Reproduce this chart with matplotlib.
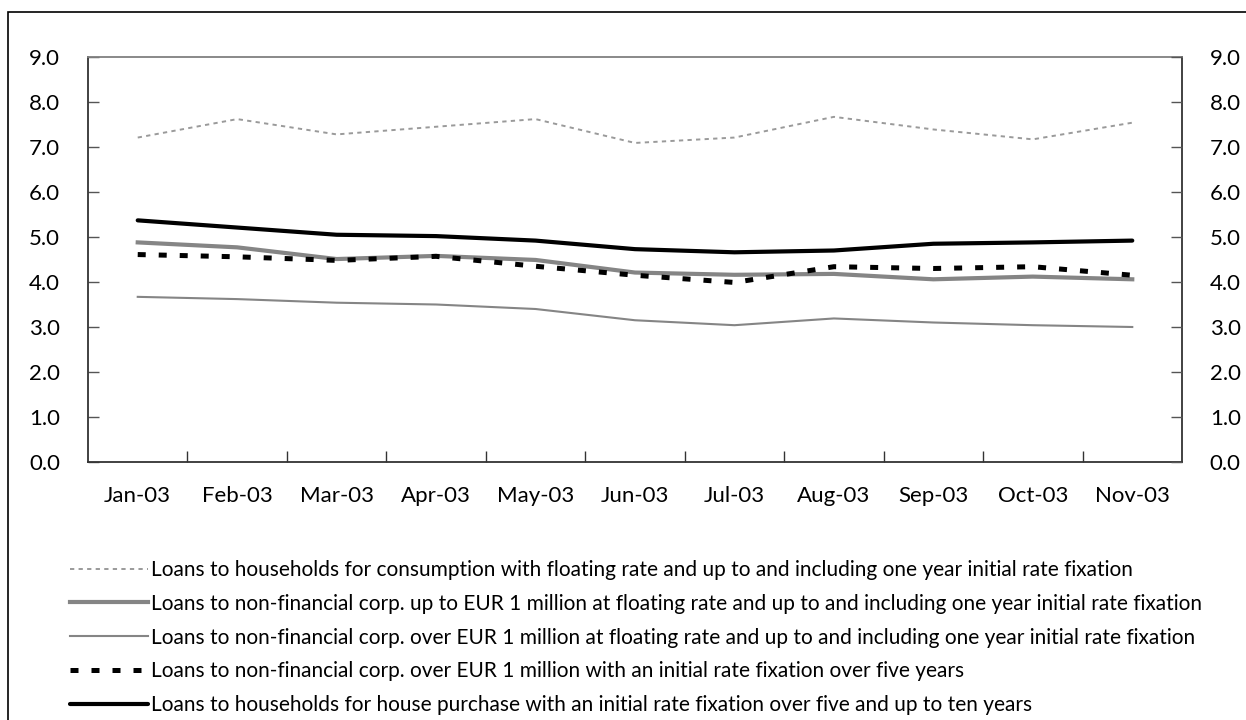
import matplotlib
matplotlib.use("Agg")
import matplotlib.pyplot as plt
from matplotlib.patches import Rectangle

plt.rcParams['font.family'] = ['Lato', 'DejaVu Sans']

months = ["Jan-03", "Feb-03", "Mar-03", "Apr-03", "May-03", "Jun-03",
          "Jul-03", "Aug-03", "Sep-03", "Oct-03", "Nov-03"]

consumption_floating = [7.21, 7.62, 7.28, 7.45, 7.62, 7.09, 7.21, 7.67, 7.39, 7.17, 7.54]
nfc_upto1m_floating = [4.88, 4.77, 4.51, 4.58, 4.49, 4.21, 4.16, 4.18, 4.06, 4.12, 4.06]
nfc_over1m_floating = [3.67, 3.62, 3.54, 3.50, 3.40, 3.15, 3.04, 3.19, 3.10, 3.04, 3.00]
nfc_over1m_over5y = [4.61, 4.56, 4.48, 4.57, 4.35, 4.15, 3.99, 4.34, 4.30, 4.34, 4.15]
house_5to10y = [5.37, 5.21, 5.05, 5.02, 4.92, 4.73, 4.66, 4.70, 4.85, 4.88, 4.92]

labels = [
    "Loans to households for consumption with floating rate and up to and including one year initial rate fixation",
    "Loans to non-financial corp. up to EUR 1 million at floating rate and up to and including one year initial rate fixation",
    "Loans to non-financial corp. over EUR 1 million at floating rate and up to and including one year initial rate fixation",
    "Loans to non-financial corp. over EUR 1 million with an initial rate fixation over five years",
    "Loans to households for house purchase with an initial rate fixation over five and up to ten years",
]

yticks = [0.0, 1.0, 2.0, 3.0, 4.0, 5.0, 6.0, 7.0, 8.0, 9.0]

W, H = 1246, 720
fig = plt.figure(figsize=(W / 100, H / 100), dpi=100)
ax = fig.add_axes([88 / W, 1 - 462 / H, (1182 - 88) / W, (462 - 57) / H])

x = list(range(len(months)))
l1, = ax.plot(x, consumption_floating, color='#9a9a9a', lw=1.4, dashes=(2.2, 2.2))
l2, = ax.plot(x, nfc_upto1m_floating, color='#858585', lw=3.0, solid_joinstyle='round')
l3, = ax.plot(x, nfc_over1m_floating, color='#858585', lw=1.5)
l4, = ax.plot(x, nfc_over1m_over5y, color='black', lw=3.6, dashes=(1.6, 2.6))
l5, = ax.plot(x, house_5to10y, color='black', lw=3.0, solid_capstyle='round')

ax.set_xlim(-0.5, len(months) - 0.5)
ax.set_ylim(0, 9)
ax.set_yticks(yticks)
ax.set_yticklabels([f"{v:.1f}" for v in yticks])

ax.set_xticks([i + 0.5 for i in range(len(months) - 1)])
ax.set_xticklabels([])
ax.set_xticks(x, minor=True)
ax.set_xticklabels(months, minor=True)
ax.tick_params(axis='x', which='major', direction='in', length=8, width=1, color='#333333')
ax.tick_params(axis='x', which='minor', length=0, pad=17, labelsize=16)
ax.tick_params(axis='y', direction='in', length=8, width=1, color='#555555', pad=20, labelsize=16)

for s in ['left', 'bottom', 'right']:
    ax.spines[s].set_color('#333333')
    ax.spines[s].set_linewidth(1.3)
ax.spines['top'].set_color('#808080')
ax.spines['top'].set_linewidth(1.3)

ax2 = ax.twinx()
ax2.set_ylim(0, 9)
ax2.set_yticks(yticks)
ax2.set_yticklabels([f"{v:.1f}" for v in yticks])
ax2.tick_params(axis='y', direction='in', length=8, width=1, color='#555555', pad=20, labelsize=16)
for s in ax2.spines.values():
    s.set_visible(False)

leg = fig.legend([l1, l2, l3, l4, l5], labels, loc='upper left',
                 bbox_to_anchor=(70 / W, 1 - 560 / H), frameon=False,
                 fontsize=15, handlelength=3.75, handletextpad=0.12,
                 labelspacing=0.66, borderaxespad=0, borderpad=0)

fig.add_artist(Rectangle((8 / W, -0.1), 1.2, (720 - 12) / H + 0.1,
                         transform=fig.transFigure, fill=False, lw=1.2, ec='black'))

fig.savefig("out.png", dpi=100)
